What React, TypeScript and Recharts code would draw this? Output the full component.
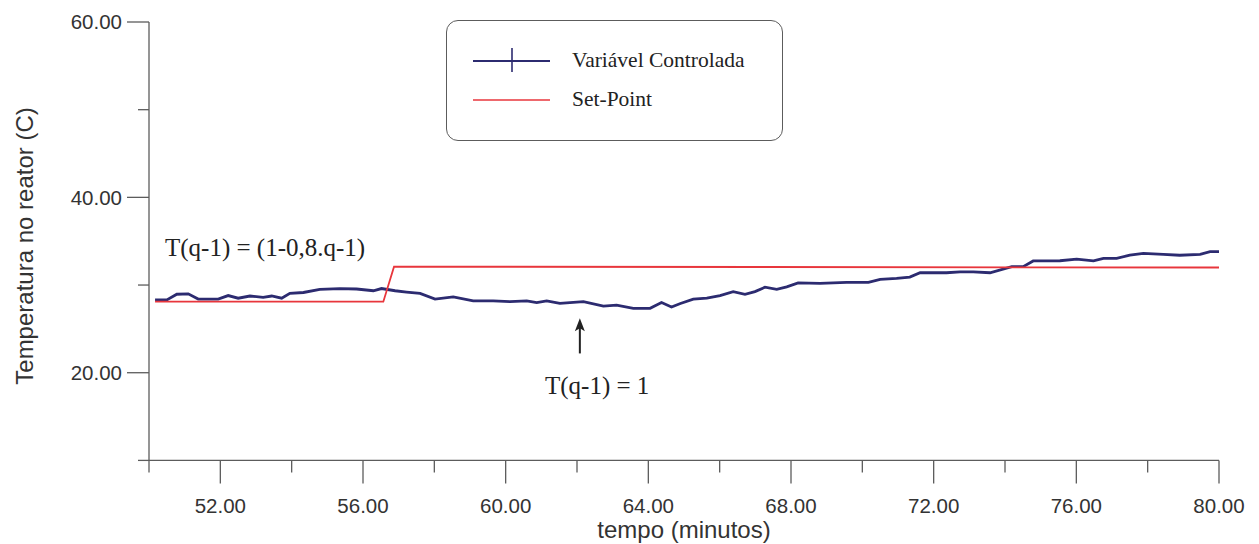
import { LineChart, Line, XAxis, YAxis, Legend, ReferenceLine } from "recharts";

// controlled variable (reactor temperature)
const vcTime = [
  50.17, 50.5, 50.78, 51.1, 51.38, 51.94, 52.22, 52.5, 52.83, 53.2, 53.44, 53.72, 53.95, 54.33,
  54.79, 55.35, 55.82, 56.29, 56.52, 56.9, 57.22, 57.6, 58.02, 58.53, 59.09, 59.65, 60.12, 60.59,
  60.87, 61.15, 61.52, 62.18, 62.74, 63.11, 63.58, 64.05, 64.37, 64.65, 64.9, 65.26, 65.64, 66.01,
  66.38, 66.71, 66.99, 67.27, 67.6, 67.88, 68.2, 68.81, 69.56, 70.17, 70.5, 70.96, 71.33, 71.62,
  72.36, 72.74, 73.11, 73.58, 74.19, 74.51, 74.79, 75.54, 76.01, 76.48, 76.76, 77.13, 77.5, 77.88,
  78.44, 78.9, 79.47, 79.75, 80.0,
];
const vcTemp = [
  28.3, 28.3, 28.95, 29.0, 28.4, 28.4, 28.8, 28.5, 28.75, 28.6, 28.75, 28.5, 29.05, 29.15,
  29.5, 29.6, 29.55, 29.35, 29.6, 29.35, 29.2, 29.05, 28.4, 28.65, 28.2, 28.2, 28.1, 28.2,
  28.0, 28.2, 27.9, 28.1, 27.6, 27.7, 27.35, 27.35, 28.0, 27.5, 27.9, 28.4, 28.5, 28.8,
  29.25, 28.95, 29.25, 29.75, 29.5, 29.8, 30.25, 30.2, 30.3, 30.3, 30.65, 30.75, 30.9, 31.4,
  31.4, 31.5, 31.5, 31.4, 32.1, 32.1, 32.75, 32.77, 32.95, 32.75, 33.05, 33.05, 33.4, 33.6,
  33.5, 33.4, 33.5, 33.8, 33.8,
];

// set-point step
const spTime = [50.17, 56.57, 56.87, 80.0];
const spTemp = [28.1, 28.1, 32.1, 32.0];

const seriesNames = ["Variável Controlada", "Set-Point"];

const xTicks = [50, 52, 54, 56, 58, 60, 62, 64, 66, 68, 70, 72, 74, 76, 78, 80];
const xLabeled = [52, 56, 60, 64, 68, 72, 76, 80];
const yTicks = [10, 20, 30, 40, 50, 60];
const yLabeled = [20, 40, 60];

const SANS = '"Liberation Sans", Arial, sans-serif';
const SERIF = '"Liberation Serif", "Times New Roman", serif';
const AXIS = "#5c5c5c";
const INK = "#333333";
const NAVY = "#2c2b70";
const RED = "#e8363c";

const vcData = vcTime.map((t, i) => ({ x: t, y: vcTemp[i] }));
const spData = spTime.map((t, i) => ({ x: t, y: spTemp[i] }));

function XTick({ x, y, payload }: any) {
  const major = xLabeled.includes(payload.value);
  return (
    <g>
      <line x1={x} x2={x} y1={y} y2={y + (major ? 23 : 12)} stroke={AXIS} strokeWidth={1.3} />
      {major && (
        <text x={x} y={y + 52.5} textAnchor="middle" fontFamily={SANS} fontSize={20.5} fill={INK}>
          {payload.value.toFixed(2)}
        </text>
      )}
    </g>
  );
}

function YTick({ x, y, payload }: any) {
  const major = yLabeled.includes(payload.value);
  return (
    <g>
      <line x1={x - (major ? 22 : 11)} x2={x} y1={y} y2={y} stroke={AXIS} strokeWidth={1.3} />
      {major && (
        <text x={x - 27} y={y} dy="0.36em" textAnchor="end" fontFamily={SANS} fontSize={20.5} fill={INK}>
          {payload.value.toFixed(2)}
        </text>
      )}
    </g>
  );
}

function LegendBox({ payload }: any) {
  const items = seriesNames
    .map((n) => (payload ?? []).find((p: any) => p.value === n))
    .filter(Boolean);
  return (
    <div
      style={{
        width: 337,
        height: 121,
        boxSizing: "border-box",
        border: `1.5px solid ${AXIS}`,
        borderRadius: 12,
        background: "#fff",
      }}
    >
      <svg width={334} height={118} style={{ display: "block" }}>
        {items.map((item: any, i: number) => {
          const cy = 40 + i * 39;
          return (
            <g key={item.value}>
              <line x1={26} x2={103} y1={cy} y2={cy} stroke={item.color} strokeWidth={i === 0 ? 2.2 : 1.6} />
              {i === 0 && <line x1={65} x2={65} y1={cy - 13} y2={cy + 11} stroke={item.color} strokeWidth={1.6} />}
              <text x={125} y={cy + 6} fontFamily={SERIF} fontSize={21.5} fill="#222">
                {item.value}
              </text>
            </g>
          );
        })}
      </svg>
    </div>
  );
}

function Arrow({ x1, y1, x2, y2 }: any) {
  const top = Math.min(y1, y2);
  const bottom = Math.max(y1, y2);
  return (
    <g>
      <line x1={x1} x2={x2} y1={top + 8} y2={bottom} stroke="#222" strokeWidth={2} />
      <path d={`M${x1},${top} L${x1 - 5},${top + 13} L${x1},${top + 10} L${x1 + 5},${top + 13} Z`} fill="#222" />
    </g>
  );
}

export default function App() {
  return (
    <div style={{ position: "absolute", left: 0, top: 0, background: "#fff" }}>
      <LineChart width={1259} height={544} margin={{ top: 22, right: 40, bottom: 0, left: 0 }}>
        <XAxis
          type="number"
          dataKey="x"
          domain={[50, 80]}
          ticks={xTicks}
          interval={0}
          height={83.6}
          tickSize={0}
          tickMargin={0}
          tickLine={false}
          tick={<XTick />}
          axisLine={{ stroke: AXIS, strokeWidth: 1.3 }}
          allowDataOverflow
        />
        <YAxis
          type="number"
          domain={[10, 60]}
          ticks={yTicks}
          interval={0}
          width={149}
          tickSize={0}
          tickMargin={0}
          tickLine={false}
          tick={<YTick />}
          axisLine={{ stroke: AXIS, strokeWidth: 1.3 }}
          allowDataOverflow
        />
        <Legend
          layout="vertical"
          align="center"
          verticalAlign="middle"
          content={<LegendBox />}
          wrapperStyle={{ left: 446, top: 20, width: 337, height: 121 }}
        />
        <Line
          name={seriesNames[0]}
          data={vcData}
          dataKey="y"
          type="linear"
          stroke={NAVY}
          strokeWidth={2.8}
          dot={false}
          isAnimationActive={false}
        />
        <Line
          name={seriesNames[1]}
          data={spData}
          dataKey="y"
          type="linear"
          stroke={RED}
          strokeWidth={1.8}
          dot={false}
          isAnimationActive={false}
        />
        <ReferenceLine
          segment={[
            { x: 62.08, y: 22.2 },
            { x: 62.08, y: 26.2 },
          ]}
          shape={<Arrow />}
        />
        <text x={165} y={256} fontFamily={SERIF} fontSize={25} fill="#222">
          T(q-1) = (1-0,8.q-1)
        </text>
        <text x={545} y={394} fontFamily={SERIF} fontSize={25} fill="#222">
          T(q-1) = 1
        </text>
        <text x={684} y={538} textAnchor="middle" fontFamily={SANS} fontSize={24} fill={INK}>
          tempo (minutos)
        </text>
        <text
          x={33}
          y={246}
          transform="rotate(-90, 33, 246)"
          textAnchor="middle"
          fontFamily={SANS}
          fontSize={24}
          fill={INK}
        >
          Temperatura no reator (C)
        </text>
      </LineChart>
    </div>
  );
}
